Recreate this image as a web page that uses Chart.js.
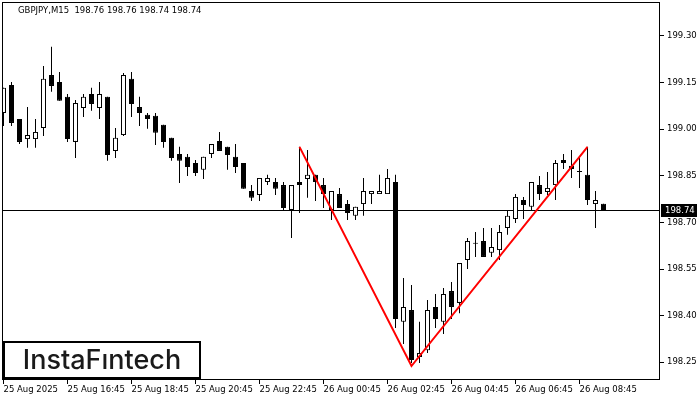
<!DOCTYPE html>
<html>
<head>
<meta charset="utf-8">
<script src="https://cdn.jsdelivr.net/npm/chart.js@4.4.1/dist/chart.umd.min.js"></script>
<style>
  html, body { margin: 0; padding: 0; background: #fff; }
  #wrap { width: 700px; height: 400px; position: relative; }
</style>
</head>
<body>
<div id="wrap"><canvas id="c" width="700" height="400"></canvas></div>
<script>
// ---- data (GBPJPY, M15, 25 Aug 14:45 -> 26 Aug 09:30) ----
const opens  = [199.052,199.142,199.033,198.968,198.968,199.004,199.174,199.152,199.104,198.959,
                199.068,199.113,199.068,199.104,198.930,198.981,199.162,199.071,199.046,199.043,
                199.014,198.972,198.920,198.911,198.891,198.869,198.920,198.962,198.943,198.911,
                198.891,198.801,198.788,198.830,198.830,198.820,198.740,198.830,198.840,198.853,
                198.820,198.740,198.791,198.759,198.721,198.759,198.791,198.791,198.791,198.830,
                198.380,198.418,198.267,198.289,198.428,198.380,198.479,198.441,198.579,198.631,
                198.640,198.602,198.611,198.682,198.711,198.772,198.750,198.820,198.798,198.820,
                198.901,198.882,198.862,198.853,198.759,198.760];
const highs  = [199.133,199.152,199.033,199.071,199.033,199.203,199.265,199.184,199.113,199.094,
                199.113,199.133,199.152,199.104,199.004,199.181,199.184,199.104,199.052,199.052,
                199.014,198.972,198.943,198.920,198.901,198.911,198.952,198.991,198.943,198.952,
                198.891,198.820,198.843,198.853,198.843,198.830,198.820,198.943,198.933,198.853,
                198.843,198.801,198.811,198.772,198.750,198.843,198.801,198.853,198.872,198.853,
                198.521,198.499,198.380,198.450,198.470,198.489,198.508,198.569,198.650,198.669,
                198.682,198.682,198.692,198.737,198.791,198.782,198.830,198.849,198.862,198.901,
                198.920,198.933,198.907,198.943,198.801,198.760];
const lows   = [199.010,199.010,198.952,198.940,198.940,198.978,199.120,199.091,198.959,198.907,
                199.039,199.059,199.033,198.898,198.907,198.978,199.039,199.010,199.001,198.949,
                198.940,198.898,198.827,198.849,198.849,198.840,198.907,198.930,198.869,198.859,
                198.808,198.769,198.769,198.820,198.788,198.740,198.650,198.730,198.779,198.769,
                198.746,198.708,198.746,198.708,198.708,198.721,198.759,198.791,198.791,198.360,
                198.309,198.248,198.248,198.280,198.360,198.341,198.389,198.408,198.550,198.589,
                198.589,198.589,198.579,198.660,198.698,198.711,198.740,198.772,198.788,198.772,
                198.872,198.843,198.811,198.756,198.682,198.740];
const closes = [199.133,199.020,198.959,198.981,198.991,199.162,199.139,199.091,198.968,199.084,
                199.104,199.081,199.113,198.917,198.972,199.174,199.081,199.052,199.033,198.988,
                198.959,198.907,198.898,198.878,198.859,198.911,198.952,198.930,198.917,198.878,
                198.808,198.779,198.843,198.843,198.808,198.746,198.820,198.820,198.853,198.830,
                198.791,198.801,198.746,198.730,198.750,198.801,198.801,198.801,198.843,198.389,
                198.428,198.257,198.280,198.418,198.389,198.470,198.428,198.569,198.640,198.631,
                198.589,198.621,198.669,198.721,198.782,198.756,198.830,198.791,198.811,198.891,
                198.891,198.872,198.862,198.772,198.772,198.740];

const tickIdx    = [0, 8, 16, 24, 32, 40, 48, 56, 64, 72];
const tickLabels = ['25 Aug 2025','25 Aug 16:45','25 Aug 18:45','25 Aug 20:45','25 Aug 22:45',
                    '26 Aug 00:45','26 Aug 02:45','26 Aug 04:45','26 Aug 06:45','26 Aug 08:45'];
const priceTicks = [198.25, 198.40, 198.55, 198.70, 198.85, 199.00, 199.15, 199.30];

// double-top pattern (red V)
const patternIdx   = [37, 51, 73];
const patternPrice = [198.943, 198.238, 198.943];

const symbolTitle  = 'GBPJPY,M15  198.76 198.76 198.74 198.74';
const currentPrice = 198.74;
const logoText     = 'InstaFıntech';

// ---- chart ----
const FONT = { family: 'DejaVu Sans', size: 8.5 };

const noPad = (s) => { s.paddingTop = 0; s.paddingBottom = 0; s.paddingLeft = 0; s.paddingRight = 0; };

const overlay = {
  id: 'overlay',
  beforeDatasetsDraw(chart) {
    const { ctx, chartArea: a, scales: { y } } = chart;
    const py = Math.round(y.getPixelForValue(currentPrice)) + 0.5;
    ctx.save();
    ctx.strokeStyle = '#000';
    ctx.lineWidth = 1;
    ctx.beginPath();
    ctx.moveTo(a.left, py);
    ctx.lineTo(a.right, py);
    ctx.stroke();
    ctx.restore();
  },
  afterDraw(chart) {
    const { ctx, chartArea: a, scales: { y } } = chart;
    ctx.save();
    // frame
    ctx.strokeStyle = '#000';
    ctx.lineWidth = 1;
    ctx.strokeRect(a.left + 0.5, a.top + 0.5, a.right - a.left - 1, a.bottom - a.top - 1);
    // current price tag
    const py = Math.round(y.getPixelForValue(currentPrice));
    ctx.fillStyle = '#000';
    ctx.fillRect(a.right + 1, py - 6, 36, 13);
    ctx.fillStyle = '#fff';
    ctx.font = FONT.size + 'px "' + FONT.family + '"';
    ctx.textBaseline = 'middle';
    ctx.textAlign = 'left';
    ctx.fillText(currentPrice.toFixed(2), a.right + 5, py + 0.5);
    // title
    ctx.fillStyle = '#000';
    ctx.fillText(symbolTitle, 18, 11);
    // logo
    ctx.fillStyle = '#fff';
    ctx.fillRect(3, 341, 198, 38);
    ctx.strokeStyle = '#000';
    ctx.lineWidth = 2;
    ctx.strokeRect(4, 342, 196, 36);
    ctx.fillStyle = '#1a1a1a';
    ctx.font = '500 27px Inter';
    ctx.textAlign = 'center';
    ctx.fillText(logoText, 102, 361);
    ctx.restore();
  }
};

new Chart(document.getElementById('c'), {
  data: {
    datasets: [
      {
        type: 'line',
        data: patternIdx.map((x, k) => ({ x, y: patternPrice[k] })),
        borderColor: '#ff0000',
        borderWidth: 2,
        pointRadius: 0,
        tension: 0,
        order: 0
      },
      {
        type: 'bar',
        data: opens.map((o, i) => ({ x: i, y: [o, closes[i]] })),
        barThickness: 5,
        grouped: false,
        minBarLength: 1,
        borderWidth: 1,
        borderSkipped: false,
        inflateAmount: 0,
        borderColor: '#000',
        backgroundColor: (c) => (closes[c.dataIndex] >= opens[c.dataIndex] ? '#fff' : '#000'),
        order: 1
      },
      {
        type: 'bar',
        data: lows.map((l, i) => ({ x: i, y: [l, highs[i]] })),
        barThickness: 1,
        grouped: false,
        minBarLength: 1,
        borderWidth: 0,
        inflateAmount: 0,
        backgroundColor: '#000',
        order: 2
      }
    ]
  },
  options: {
    responsive: false,
    animation: false,
    events: [],
    layout: { padding: { left: 2, top: 2, right: 0, bottom: 0 } },
    plugins: { legend: { display: false }, tooltip: { enabled: false } },
    scales: {
      x: {
        type: 'linear',
        position: 'bottom',
        offset: false,
        min: -0.1875,
        max: 82.0625,
        afterBuildTicks: (s) => { s.ticks = tickIdx.map(v => ({ value: v })); },
        afterFit: (s) => { s.height = 20; noPad(s); },
        ticks: {
          autoSkip: false,
          maxRotation: 0,
          align: 'start',
          padding: 1,
          color: '#000',
          font: FONT,
          callback: (v, i) => tickLabels[i]
        },
        grid: { offset: false, drawOnChartArea: false, drawTicks: true, tickLength: 4, color: '#000' },
        border: { display: false }
      },
      y: {
        type: 'linear',
        position: 'right',
        min: 198.193,
        max: 199.409,
        afterBuildTicks: (s) => { s.ticks = priceTicks.map(v => ({ value: v })); },
        afterFit: (s) => { s.width = 40; noPad(s); },
        ticks: {
          padding: 3,
          color: '#000',
          font: FONT,
          callback: (v) => Number(v).toFixed(2)
        },
        grid: { drawOnChartArea: false, drawTicks: true, tickLength: 4, color: '#000' },
        border: { display: false }
      }
    }
  },
  plugins: [overlay]
});
</script>
</body>
</html>
